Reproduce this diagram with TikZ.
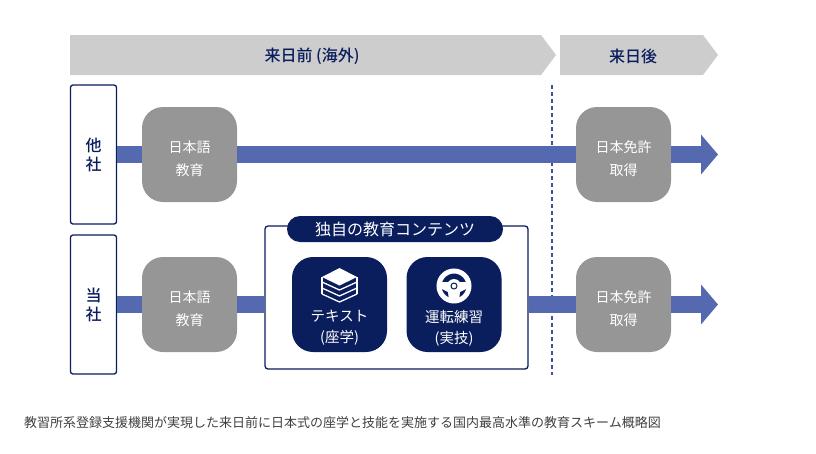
\documentclass[tikz,border=0pt]{standalone}
\usepackage{fontspec}
\setmainfont{Noto Sans CJK JP}
\newfontfamily\medfont{Noto Sans CJK JP Medium}
\usetikzlibrary{arrows.meta}
\definecolor{navy}{HTML}{0A1D5C}
\definecolor{barblue}{HTML}{5569B0}
\definecolor{boxgray}{HTML}{969696}
\definecolor{bandgray}{HTML}{CDCDCD}
\begin{document}
\begin{tikzpicture}[x=1pt, y=-1pt]
      \tikzset{
        side box/.style={draw=navy, line width=1.3pt, fill=white, rounded corners=2.5pt, minimum width=46pt, minimum height=139pt, inner sep=0pt, align=center, text=navy, font=\fontsize{16}{19}\medfont},
        gray box/.style={fill=boxgray, rounded corners=21pt, minimum size=95pt, inner sep=0pt},
        gray text/.style={text=white, align=center, inner sep=0pt, font=\fontsize{14}{23}\selectfont},
        navy box/.style={fill=navy, rounded corners=21pt, minimum size=95pt, inner sep=0pt},
        navy text/.style={text=white, align=center, inner sep=0pt, font=\fontsize{14.5}{21}\selectfont},
        band text/.style={text=navy, inner sep=0pt, font=\fontsize{16}{19}\medfont},
        flow bar/.style={draw=barblue, line width=17pt},
        flow arrow/.style={flow bar, -{Triangle[length=17pt, width=39pt]}}
      }
      \useasboundingbox (0, 0) rectangle (816, 453);

      % Header bands
      \fill[bandgray] (70, 35) -- (541, 35) -- (556, 55) -- (541, 75) -- (70, 75) -- cycle;
      \fill[bandgray] (560, 35) -- (703, 35) -- (718, 55) -- (703, 75) -- (560, 75) -- cycle;
      \node[band text] (before) at (312, 56.5) {来日前 (海外)};
      \node[band text] (after) at (633, 56.5) {来日後};

      % Dotted divider, behind the bars
      \coordinate (divtop) at (552, 85);
      \coordinate (divbot) at (552, 375);
      \draw[barblue!70!navy, line width=1.4pt, dash pattern=on 3.5pt off 3.5pt] (divtop) -- (divbot);

      % Top row
      \node[side box] (other) at (93.5, 154.5) {他\\社};
      \node[gray box] (lang1) at (189.5, 154.5) {};
      \node[gray text] (lang1lab) at (189.5, 159) {日本語\\教育};
      \node[gray box] (lic1) at (623.5, 154.5) {};
      \node[gray text] (lic1lab) at (623.5, 159) {日本免許\\取得};
      \coordinate (end1) at (718, 154.5);
      \draw[flow bar] (other) -- (lang1);
      \draw[flow bar] (lang1) -- (lic1);
      \draw[flow arrow] (lic1.east) -- (end1);

      % Bottom row
      \node[side box] (ours) at (93.5, 304.5) {当\\社};
      \node[gray box] (lang2) at (189.5, 304.5) {};
      \node[gray text] (lang2lab) at (189.5, 309) {日本語\\教育};
      \node[gray box] (lic2) at (623.5, 304.5) {};
      \node[gray text] (lic2lab) at (623.5, 309) {日本免許\\取得};
      \coordinate (end2) at (718, 304.5);

      % Frame around own contents
      \node[draw=navy, line width=1.3pt, fill=white, rounded corners=3pt, minimum width=263pt, minimum height=143pt, inner sep=0pt] (frame) at (396.5, 297.5) {};
      \draw[flow bar] (ours) -- (lang2);
      \draw[flow bar] (lang2) -- (lang2 -| frame.west);
      \draw[flow bar] (frame.east |- lic2) -- (lic2);
      \draw[flow arrow] (lic2.east) -- (end2);
      \node[fill=navy, rounded corners=13pt, minimum width=216pt, minimum height=26pt, inner sep=0pt, text=white, font=\fontsize{16}{19}\selectfont] (title) at (395, 229) {独自の教育コンテンツ};

      % Textbook card
      \node[navy box] (text) at (339.5, 304.5) {};
      \node[navy text] (textlab) at (339.5, 328) {テキスト\\(座学)};
      \fill[white] (339.5, 268) -- (357, 277) -- (339.5, 285.5) -- (322, 277) -- cycle;
      \foreach \d in {0, 6, 12} {
        \draw[white, line width=1.3pt, line join=round] (322, 282+\d) -- (339.5, 290+\d) -- (357, 282+\d);
      }
      \draw[white, line width=1.3pt] (322, 277) -- (322, 294) (357, 277) -- (357, 294);

      % Driving card
      \node[navy box] (drive) at (454, 304.5) {};
      \node[navy text] (drivelab) at (454, 328) {運転練習\\(実技)};
      \draw[white, line width=5pt] (454, 286) circle (15);
      \fill[white] (454, 286) circle (7);
      \fill[white] (440, 282) -- (468, 282) -- (468, 288) -- (460, 292) -- (459, 301) -- (449, 301) -- (448, 292) -- (440, 288) -- cycle;
      \draw[navy, line width=1pt] (454, 286) circle (3);

      % Caption
      \node[anchor=west, inner sep=0pt, text=black!75, font=\fontsize{13}{16}\selectfont] (caption) at (24, 423) {教習所系登録支援機関が実現した来日前に日本式の座学と技能を実施する国内最高水準の教育スキーム概略図};
\end{tikzpicture}
\end{document}
